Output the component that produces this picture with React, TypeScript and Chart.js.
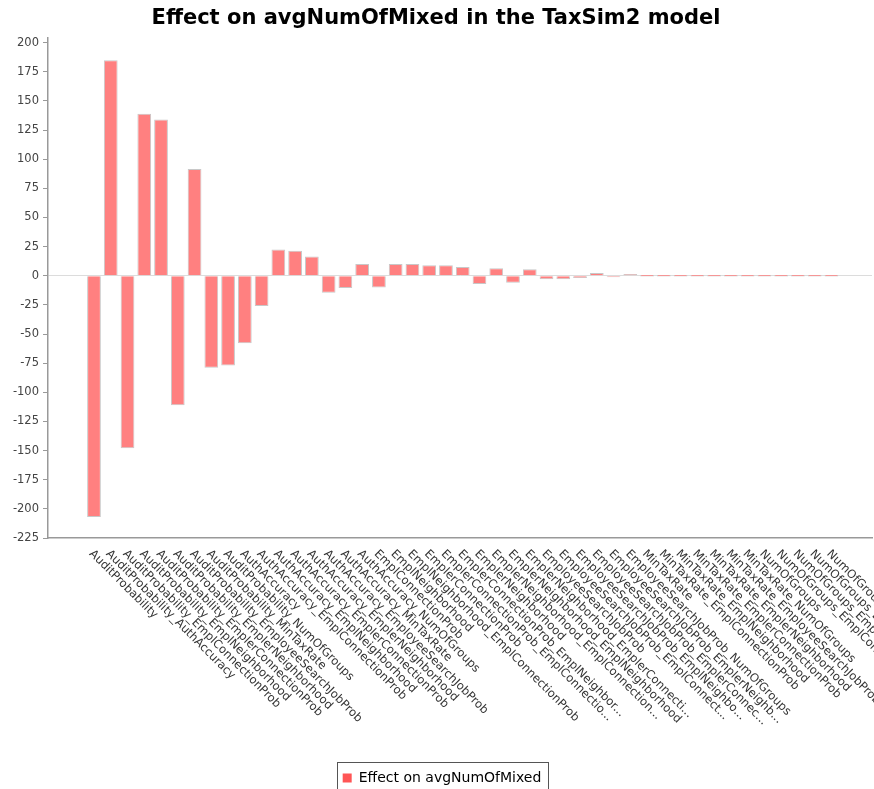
import React, { useEffect, useRef } from "react";
import { Chart, registerables } from "chart.js";

Chart.register(...registerables);

const chartTitle = "Effect on avgNumOfMixed in the TaxSim2 model";
const seriesName = "Effect on avgNumOfMixed";

const categories: string[] = [
  "AuditProbability",
  "AuditProbability_AuthAccuracy",
  "AuditProbability_EmplConnectionProb",
  "AuditProbability_EmplNeighborhood",
  "AuditProbability_EmplerConnectionProb",
  "AuditProbability_EmplerNeighborhood",
  "AuditProbability_EmployeeSearchJobProb",
  "AuditProbability_MinTaxRate",
  "AuditProbability_NumOfGroups",
  "AuthAccuracy",
  "AuthAccuracy_EmplConnectionProb",
  "AuthAccuracy_EmplNeighborhood",
  "AuthAccuracy_EmplerConnectionProb",
  "AuthAccuracy_EmplerNeighborhood",
  "AuthAccuracy_EmployeeSearchJobProb",
  "AuthAccuracy_MinTaxRate",
  "AuthAccuracy_NumOfGroups",
  "EmplConnectionProb",
  "EmplNeighborhood",
  "EmplNeighborhood_EmplConnectionProb",
  "EmplerConnectionProb",
  "EmplerConnectionProb_EmplConnectio...",
  "EmplerConnectionProb_EmplNeighbor...",
  "EmplerNeighborhood",
  "EmplerNeighborhood_EmplConnection...",
  "EmplerNeighborhood_EmplNeighborhood",
  "EmplerNeighborhood_EmplerConnecti...",
  "EmployeeSearchJobProb",
  "EmployeeSearchJobProb_EmplConnect...",
  "EmployeeSearchJobProb_EmplNeighbo...",
  "EmployeeSearchJobProb_EmplerConnec...",
  "EmployeeSearchJobProb_EmplerNeighb...",
  "EmployeeSearchJobProb_NumOfGroups",
  "MinTaxRate",
  "MinTaxRate_EmplConnectionProb",
  "MinTaxRate_EmplNeighborhood",
  "MinTaxRate_EmplerConnectionProb",
  "MinTaxRate_EmplerNeighborhood",
  "MinTaxRate_EmployeeSearchJobProb",
  "MinTaxRate_NumOfGroups",
  "NumOfGroups",
  "NumOfGroups_EmplConnectionProb",
  "NumOfGroups_EmplNeighborhood",
  "NumOfGroups_EmplerConnectionProb",
  "NumOfGroups_EmplerNeighborhood",
];

const effects: number[] = [
  -207, 185, -148, 139, 134, -111, 91.5, -79, -77, -58,
  -26, 22.5, 21.5, 16.5, -14.5, -10.5, 10, -10, 10, 10,
  9, 9, 7.5, -7, 6.5, -6, 5.5, -3, -3, -2,
  2.4, -1.2, 1.5, 0, 0, 0, 0, 0, 0, 0,
  0, 0, 0, 0, 0,
];

const yTicks: number[] = [
  200, 175, 150, 125, 100, 75, 50, 25, 0, -25, -50, -75, -100,
  -125, -150, -175, -200, -225,
];

const FONT = "'DejaVu Sans', 'Lucida Grande', sans-serif";

export default function App() {
  const canvasRef = useRef<HTMLCanvasElement | null>(null);

  useEffect(() => {
    document.body.style.margin = "0";
    const canvas = canvasRef.current;
    if (!canvas) return;

    const rotatedLabels = {
      id: "rotatedLabels",
      afterLayout(chart: any) {
        if (chart.legend) {
          chart.legend.left += 6;
          chart.legend.right += 6;
        }
      },
      afterDraw(chart: any) {
        const { ctx, chartArea } = chart;
        const x = chart.scales.x;
        ctx.save();
        ctx.font = `11.6px ${FONT}`;
        ctx.fillStyle = "#333";
        ctx.textAlign = "left";
        ctx.textBaseline = "middle";
        categories.forEach((label, i) => {
          const px = x.getPixelForValue(i);
          ctx.save();
          ctx.translate(px - 3, chartArea.bottom + 14);
          ctx.rotate(Math.PI / 4);
          ctx.fillText(label, 0, 0);
          ctx.restore();
        });
        const hb = chart.legend && chart.legend.legendHitBoxes && chart.legend.legendHitBoxes[0];
        if (hb) {
          ctx.strokeStyle = "#555";
          ctx.lineWidth = 1;
          const cy = hb.top + hb.height / 2;
          ctx.strokeRect(
            Math.round(hb.left - 6) + 0.5,
            Math.round(cy - 16) + 0.5,
            Math.round(hb.width + 12),
            60
          );
        }
        ctx.restore();
      },
    };

    const chart = new Chart(canvas, {
      type: "bar",
      data: {
        datasets: [
          {
            label: seriesName,
            data: effects.map((v, i) => ({ x: i, y: v })) as any,
            backgroundColor: "rgb(255,128,128)",
            borderColor: "rgb(200,200,200)",
            borderWidth: 1,
            barPercentage: 0.82,
            categoryPercentage: 1,
            minBarLength: 1.5,
          },
        ],
      },
      options: {
        animation: false,
        responsive: false,
        layout: { padding: { left: 0, right: 2, top: 0, bottom: -6 } },
        plugins: {
          title: {
            display: true,
            text: chartTitle,
            color: "#000",
            font: { family: FONT, size: 21, weight: "bold", lineHeight: 1.2 },
            padding: { top: 6, bottom: 6.8 },
          },
          legend: {
            position: "bottom",
            labels: {
              font: { family: FONT, size: 14 },
              color: "#111",
              boxWidth: 9,
              boxHeight: 9,
              padding: 4,
              generateLabels: () => [
                {
                  text: seriesName,
                  fillStyle: "rgb(255,85,85)",
                  strokeStyle: "rgb(255,85,85)",
                  lineWidth: 0,
                  hidden: false,
                  datasetIndex: 0,
                } as any,
              ],
            },
          },
          tooltip: { enabled: false },
        },
        scales: {
          x: {
            type: "linear",
            offset: false,
            min: -2.744,
            max: 46.42,
            grid: { display: false, offset: false },
            border: { display: true, color: "#999", width: 1.5 },
            ticks: { display: false },
            afterFit: (s: any) => {
              s.height = 229;
            },
          },
          y: {
            min: -225,
            max: 204,
            afterBuildTicks: (s: any) => {
              s.ticks = yTicks.map((v) => ({ value: v }));
            },
            afterFit: (s: any) => {
              s.width = 48;
            },
            ticks: {
              font: { family: FONT, size: 11.5 },
              color: "#444",
              padding: 4,
              callback: (v: any) => String(v),
            },
            grid: {
              color: (c: any) =>
                c.tick && c.tick.value === 0 ? "#dcdcdc" : "rgba(0,0,0,0)",
              tickColor: "#999",
              tickLength: 5,
              drawTicks: true,
              lineWidth: 1,
            },
            border: { display: true, color: "#999", width: 1.5 },
          },
        },
      } as any,
      plugins: [rotatedLabels],
    });

    return () => chart.destroy();
  }, []);

  return (
    <canvas
      ref={canvasRef}
      width={874}
      height={789}
      style={{ display: "block" }}
    />
  );
}
